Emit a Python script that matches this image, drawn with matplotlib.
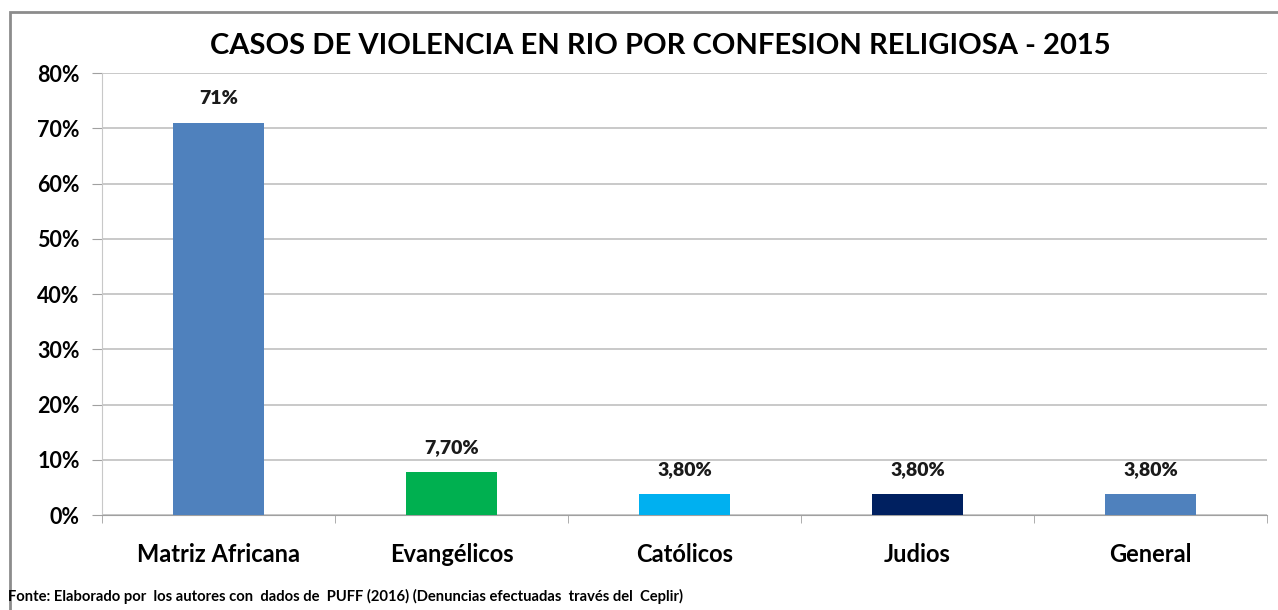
import matplotlib
matplotlib.use('Agg')
import matplotlib.pyplot as plt
from matplotlib.patches import Rectangle

categorias = ['Matriz Africana', 'Evangélicos', 'Católicos', 'Judios', 'General']
valores = [71.0, 7.7, 3.8, 3.8, 3.8]
etiquetas = ['71%', '7,70%', '3,80%', '3,80%', '3,80%']
colores = ['#4F81BD', '#00B050', '#00B0F0', '#002060', '#4F81BD']

plt.rcParams['font.family'] = ['Lato', 'DejaVu Sans']

fig = plt.figure(figsize=(12.78, 6.10), dpi=100)
# marco gris de la figura
fig.patches.append(Rectangle((10 / 1278, -0.05), 1.1, 1 - 12 / 610 + 0.05,
                             transform=fig.transFigure, fill=False,
                             edgecolor='#8C8C8C', linewidth=2))

ax = fig.add_axes([0.0798, 0.1557, 0.9116, 0.7243])
x = range(len(categorias))
ax.bar(x, valores, width=0.39, color=colores, zorder=3)

for i, (v, t) in enumerate(zip(valores, etiquetas)):
    ax.text(i, v + 2.9, t, ha='center', va='bottom', fontsize=14,
            fontweight='heavy', color='#1A1A1A')

ax.set_xlim(-0.5, len(categorias) - 0.5)
ax.set_ylim(0, 80)
ax.set_yticks(range(0, 81, 10))
ax.set_yticklabels([f'{v}%' for v in range(0, 81, 10)], fontsize=15.5, fontweight='bold')
ax.set_xticks(list(x))
ax.set_xticklabels(categorias, fontsize=17, fontweight='bold')
ax.set_xticks([i - 0.5 for i in range(len(categorias) + 1)], minor=True)
ax.tick_params(axis='x', which='major', length=0, pad=20)
ax.tick_params(axis='x', which='minor', length=6, color='#A0A0A0')
ax.tick_params(axis='y', length=7, color='#A0A0A0', pad=9)
ax.grid(axis='y', color='#C0C0C0', linewidth=1.2, zorder=0)
for s in ['top', 'right']:
    ax.spines[s].set_visible(False)
ax.spines['left'].set_color('#C8C8C8')
ax.spines['bottom'].set_color('#A0A0A0')

fig.text(0.517, 0.925, 'CASOS DE VIOLENCIA EN RIO POR CONFESION RELIGIOSA - 2015',
         ha='center', va='center', fontsize=21, fontweight='bold')
fig.text(0.006, 0.023, 'Fonte: Elaborado por  los autores con  dados de  PUFF (2016) (Denuncias efectuadas  través del  Ceplir)',
         ha='left', va='center', fontsize=10.6, fontweight='bold')

fig.savefig('out.png', dpi=100)
